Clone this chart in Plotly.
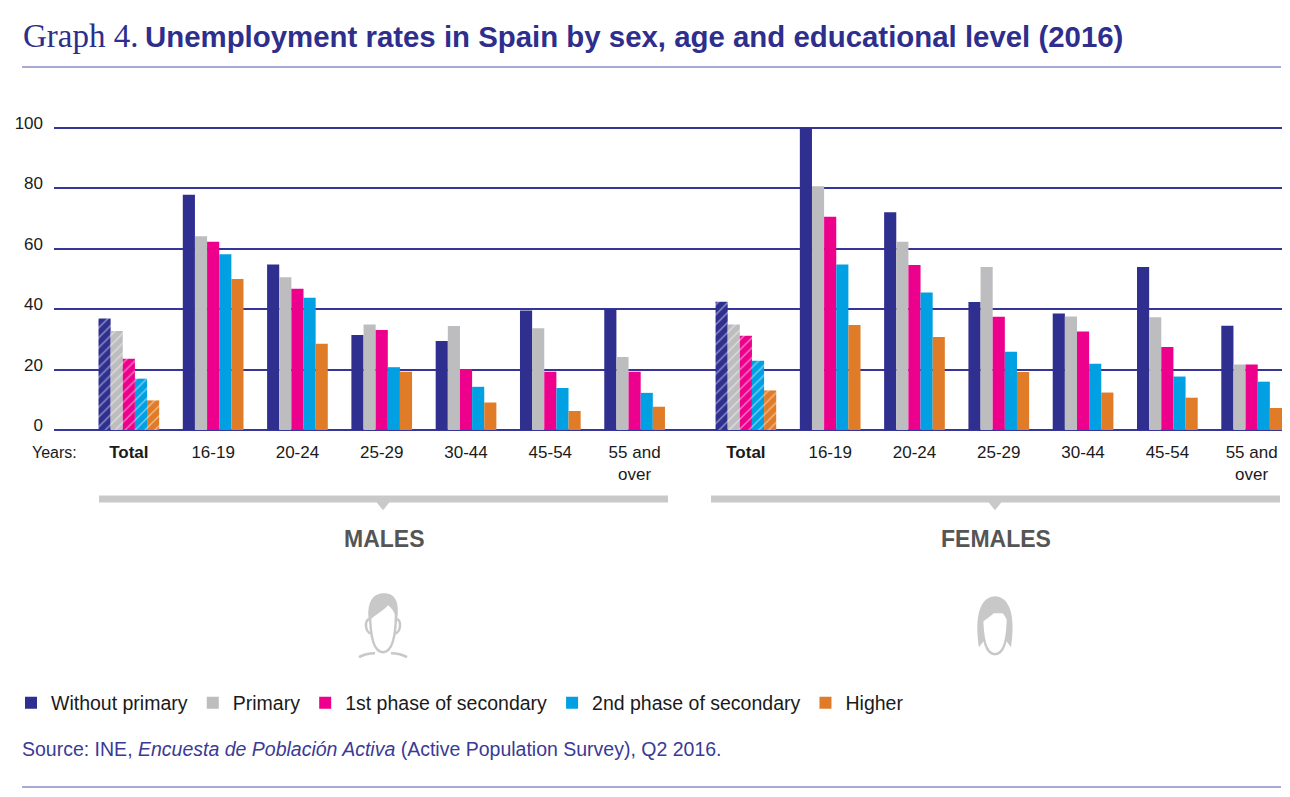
import plotly.graph_objects as go

# ---------------------------------------------------------------------
# Data (unemployment rate, %)
# ---------------------------------------------------------------------
groups = ["<b>Total</b>", "16-19", "20-24", "25-29", "30-44", "45-54", "55 and<br>over"]
levels = ["Without primary", "Primary", "1st phase of secondary",
          "2nd phase of secondary", "Higher"]
colors = ["#2e2f8f", "#bdbdbf", "#ec008c", "#00a0e3", "#e07b27"]

males_without_primary = [36.9, 77.9, 54.8, 31.5, 29.5, 39.6, 40.1]
males_primary = [32.8, 64.2, 50.6, 34.9, 34.4, 33.7, 24.2]
males_first_secondary = [23.6, 62.3, 46.8, 33.1, 20.2, 19.3, 19.3]
males_second_secondary = [17.0, 58.2, 43.8, 20.8, 14.3, 13.9, 12.3]
males_higher = [9.8, 50.0, 28.6, 19.3, 9.1, 6.3, 7.7]

females_without_primary = [42.5, 100.0, 72.1, 42.4, 38.6, 54.0, 34.5]
females_primary = [34.9, 80.7, 62.3, 54.0, 37.6, 37.3, 21.7]
females_first_secondary = [31.2, 70.6, 54.6, 37.5, 32.6, 27.5, 21.7]
females_second_secondary = [22.9, 54.8, 45.5, 25.9, 21.9, 17.7, 16.0]
females_higher = [13.1, 34.8, 30.8, 19.2, 12.4, 10.7, 7.3]

y_ticks = [0, 20, 40, 60, 80, 100]

males = [males_without_primary, males_primary, males_first_secondary,
         males_second_secondary, males_higher]
females = [females_without_primary, females_primary, females_first_secondary,
           females_second_secondary, females_higher]

# ---------------------------------------------------------------------
# Layout geometry, in pixels of the 1290x797 page
# (the page body has an 8px margin, so the figure is made smaller)
# ---------------------------------------------------------------------
OFF = 8
W, H = 1290 - 2 * OFF, 797 - 2 * OFF
PLOT_L, PLOT_R, PLOT_T = 54, 1290 - OFF, 125
PLOT_H = 305.5
PLOT_W = PLOT_R - PLOT_L
ML = PLOT_L - OFF
MT = PLOT_T - OFF
MR = W - ML - PLOT_W
MB = H - MT - PLOT_H
female_shift = 7.32  # extra space between the two blocks

male_x = [i for i in range(len(groups))]
female_x = [i + female_shift for i in range(len(groups))]


def px(x):
    return (x - PLOT_L) / PLOT_W


def py(y):
    return (PLOT_T + PLOT_H - y) / PLOT_H


def pt(x, y):
    return f"{px(x):.5f},{py(y):.5f}"


fig = go.Figure()

for i, level in enumerate(levels):
    # hatched "Total" bars
    fig.add_bar(x=[male_x[0], female_x[0]], y=[males[i][0], females[i][0]],
                marker=dict(color=colors[i], line_width=0,
                            pattern=dict(shape="/", fillmode="overlay", fgcolor="white",
                                         fgopacity=0.45, size=7, solidity=0.22)),
                offsetgroup=str(i), showlegend=False, name=level)
    fig.add_bar(x=male_x[1:] + female_x[1:], y=males[i][1:] + females[i][1:],
                marker=dict(color=colors[i], line_width=0),
                offsetgroup=str(i), name=level)

fig.update_layout(
    width=W, height=H,
    margin=dict(l=ML, r=MR, t=MT, b=MB, pad=0),
    plot_bgcolor="white", paper_bgcolor="white",
    barmode="group", bargap=0.28, bargroupgap=0,
    font=dict(family="Liberation Sans, Arial, sans-serif", color="#1a1a1a"),
    legend=dict(orientation="h", x=px(11), y=py(704), xanchor="left", yanchor="middle",
                font=dict(size=19.5, color="#1a1a1a"), traceorder="normal",
                itemclick=False),
    showlegend=True,
)

fig.update_xaxes(range=[-0.888, 13.68], tickvals=male_x + female_x, ticktext=groups + groups,
                 showgrid=False, zeroline=False, showline=False, ticks="",
                 tickfont=dict(size=17, color="#1a1a1a"), ticklabelstandoff=10, fixedrange=True)
fig.update_yaxes(range=[0, 101], tickvals=y_ticks, showgrid=True, gridcolor="#36369a",
                 gridwidth=1.5, zeroline=True, zerolinecolor="#36369a", zerolinewidth=1.5,
                 ticks="", tickfont=dict(size=17, color="#1a1a1a"), ticklabelstandoff=10,
                 ticklabelshift=-5, fixedrange=True)

# ---------------------------------------------------------------------
# Title, source, labels
# ---------------------------------------------------------------------
ann = []
ann.append(dict(text="Graph 4.", x=px(21), y=py(36), xanchor="left", yanchor="middle",
                font=dict(family="Liberation Serif, serif", size=33, color="#2e2e8c")))
ann.append(dict(text="<b>Unemployment rates in Spain by sex, age and educational level (2016)</b>",
                x=px(143), y=py(36), xanchor="left", yanchor="middle",
                font=dict(family="Liberation Sans, Arial, sans-serif", size=29.4, color="#2e2e8c")))
ann.append(dict(text="Years:", x=px(30), y=py(453), xanchor="left", yanchor="middle",
                font=dict(size=16, color="#1a1a1a")))
ann.append(dict(text="<b>MALES</b>", x=px(384), y=py(540), xanchor="center", yanchor="middle",
                font=dict(size=23, color="#555555")))
ann.append(dict(text="<b>FEMALES</b>", x=px(996), y=py(540), xanchor="center", yanchor="middle",
                font=dict(size=23, color="#555555")))
ann.append(dict(text="Source: INE, <i>Encuesta de Población Activa</i> (Active Population Survey), Q2 2016.",
                x=px(20), y=py(750), xanchor="left", yanchor="middle",
                font=dict(size=19.5, color="#3a3a96")))
for a in ann:
    a.update(xref="paper", yref="paper", showarrow=False)
fig.update_layout(annotations=ann)

# ---------------------------------------------------------------------
# Rules, group brackets and icons
# ---------------------------------------------------------------------
shapes = []
shapes.append(dict(type="line", x0=px(22), x1=px(1281), y0=py(67), y1=py(67),
                   line=dict(color="#8c8cc6", width=1.5)))
shapes.append(dict(type="line", x0=px(22), x1=px(1281), y0=py(788), y1=py(788),
                   line=dict(color="#8c8cc6", width=1.5)))

for x0, x1, cx in [(99, 668, 383), (711, 1280, 995)]:
    shapes.append(dict(type="rect", x0=px(x0), x1=px(x1), y0=py(496), y1=py(503),
                       fillcolor="#c9c9c9", line_width=0))
    shapes.append(dict(type="path", path=f"M{pt(cx - 7, 502)} L{pt(cx + 7, 502)} L{pt(cx, 511)} Z",
                       fillcolor="#c9c9c9", line_width=0))

icon_col = "#c8c8c8"


def face(cx, top):
    return (f"M{pt(cx - 13, top)} C{pt(cx - 13, top + 30)} {pt(cx - 8, top + 41)} {pt(cx, top + 41)} "
            f"C{pt(cx + 8, top + 41)} {pt(cx + 13, top + 30)} {pt(cx + 13, top)}")


# male
cx = 383
shapes.append(dict(type="path", path=face(cx, 612), line=dict(color=icon_col, width=2.5),
                   fillcolor="white"))
shapes.append(dict(type="path",
                   path=f"M{pt(cx - 13, 620)} C{pt(cx - 19, 619)} {pt(cx - 18, 634)} {pt(cx - 12, 634)}",
                   line=dict(color=icon_col, width=2.5)))
shapes.append(dict(type="path",
                   path=f"M{pt(cx + 13, 620)} C{pt(cx + 19, 619)} {pt(cx + 18, 634)} {pt(cx + 12, 634)}",
                   line=dict(color=icon_col, width=2.5)))
shapes.append(dict(type="path",
                   path=(f"M{pt(cx - 14, 622)} C{pt(cx - 17, 600)} {pt(cx - 8, 594)} {pt(cx + 1, 594)} "
                         f"C{pt(cx + 12, 594)} {pt(cx + 17, 602)} {pt(cx + 14, 622)} "
                         f"C{pt(cx + 12, 613)} {pt(cx + 9, 609)} {pt(cx + 5, 606)} "
                         f"C{pt(cx - 1, 613)} {pt(cx - 8, 615)} {pt(cx - 14, 622)} Z"),
                   fillcolor=icon_col, line_width=0))
shapes.append(dict(type="path",
                   path=f"M{pt(cx - 24, 658)} C{pt(cx - 19, 655)} {pt(cx - 13, 654)} {pt(cx - 8, 654)}",
                   line=dict(color=icon_col, width=2.5)))
shapes.append(dict(type="path",
                   path=f"M{pt(cx + 24, 658)} C{pt(cx + 19, 655)} {pt(cx + 13, 654)} {pt(cx + 8, 654)}",
                   line=dict(color=icon_col, width=2.5)))

# female
cx = 995
shapes.append(dict(type="path",
                   path=(f"M{pt(cx - 16, 648)} C{pt(cx - 19, 630)} {pt(cx - 20, 598)} {pt(cx, 597)} "
                         f"C{pt(cx + 20, 598)} {pt(cx + 19, 630)} {pt(cx + 16, 648)} "
                         f"L{pt(cx + 10, 640)} L{pt(cx - 10, 640)} Z"),
                   fillcolor=icon_col, line_width=0))
shapes.append(dict(type="path", path=face(cx, 614), line=dict(color=icon_col, width=2.5),
                   fillcolor="white"))
shapes.append(dict(type="path",
                   path=(f"M{pt(cx - 14, 624)} C{pt(cx - 14, 606)} {pt(cx - 6, 602)} {pt(cx + 2, 602)} "
                         f"C{pt(cx + 10, 602)} {pt(cx + 15, 608)} {pt(cx + 14, 624)} "
                         f"C{pt(cx + 10, 616)} {pt(cx + 6, 612)} {pt(cx + 3, 609)} "
                         f"C{pt(cx - 2, 616)} {pt(cx - 8, 619)} {pt(cx - 14, 624)} Z"),
                   fillcolor=icon_col, line_width=0))

for s in shapes:
    s.update(xref="paper", yref="paper")
fig.update_layout(shapes=shapes)

fig.write_html("out.html")
